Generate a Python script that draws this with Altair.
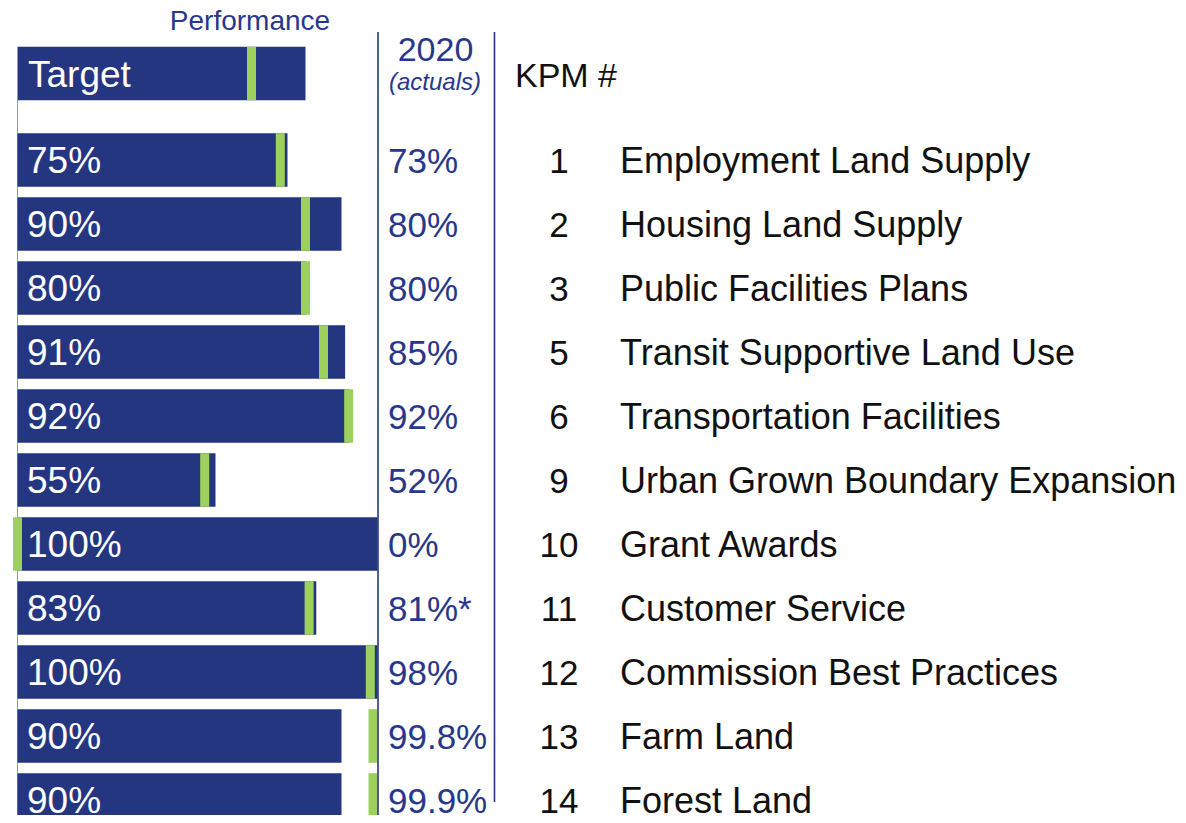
import altair as alt
import pandas as pd

# ---- data ----
KPM = ["1", "2", "3", "5", "6", "9", "10", "11", "12", "13", "14"]
NAMES = [
    "Employment Land Supply",
    "Housing Land Supply",
    "Public Facilities Plans",
    "Transit Supportive Land Use",
    "Transportation Facilities",
    "Urban Grown Boundary Expansion",
    "Grant Awards",
    "Customer Service",
    "Commission Best Practices",
    "Farm Land",
    "Forest Land",
]
TARGET = [75, 90, 80, 91, 92, 55, 100, 83, 100, 90, 90]
ACTUAL = [73, 80, 80, 85, 92, 52, 0, 81, 98, 99.8, 99.9]
ACTUAL_LABELS = ["73%", "80%", "80%", "85%", "92%", "52%", "0%", "81%*", "98%", "99.8%", "99.9%"]
HEADER_TARGET = [80]
HEADER_MARK = [65]

# ---- styling / layout ----
NAVY = "#253680"
NAVY_TXT = "#27378a"
GREEN = "#9dd05c"
FONT = "Liberation Sans"
W, H = 1170, 807
PX = 3.6          # pixels per percentage point
X0 = 9.5          # plot x of 0 %
ROWPX = 64        # pixels per row
Y0 = 152          # plot y of first row centre
HALF = 26.75 / ROWPX
MARKW = 1.25
HEADER_ROW = (65.5 - Y0) / ROWPX

xs = alt.Scale(domain=[-X0 / PX, (W - X0) / PX], nice=False, zero=False)
ys = alt.Scale(domain=[-Y0 / ROWPX, (H - Y0) / ROWPX], reverse=True, nice=False, zero=False)

df = pd.DataFrame({
    "row": list(range(len(KPM))),
    "kpm": KPM,
    "name": NAMES,
    "target": TARGET,
    "actual": ACTUAL,
    "alabel": ACTUAL_LABELS,
})
df["start"] = 0
df["tlabel"] = [f"{t}%" for t in TARGET]

hdr = pd.DataFrame({"row": [HEADER_ROW], "target": HEADER_TARGET, "actual": HEADER_MARK,
                    "start": [0], "label": ["Target"]})


def bars(data):
    return alt.Chart(data).transform_calculate(
        y0=f"datum.row - {HALF}", y1=f"datum.row + {HALF}"
    ).mark_rect(color=NAVY, clip=True).encode(
        x=alt.X("start:Q", scale=xs, axis=None),
        x2="target:Q",
        y=alt.Y("y0:Q", scale=ys, axis=None),
        y2="y1:Q",
    )


def marks(data):
    return alt.Chart(data).transform_calculate(
        c=f"min(datum.actual, {100 - MARKW})",
        y0=f"datum.row - {HALF}", y1=f"datum.row + {HALF}",
    ).transform_calculate(
        m0=f"datum.c - {MARKW}", m1=f"datum.c + {MARKW}"
    ).mark_rect(color=GREEN, clip=True).encode(
        x=alt.X("m0:Q", scale=xs, axis=None),
        x2="m1:Q",
        y=alt.Y("y0:Q", scale=ys, axis=None),
        y2="y1:Q",
    )


def rowtext(field, xpx, size, color, align="left", data=df, style="normal"):
    return alt.Chart(data).mark_text(
        align=align, baseline="middle", font=FONT, fontSize=size, color=color,
        fontStyle=style, dy=2
    ).encode(
        x=alt.value(xpx),
        y=alt.Y("row:Q", scale=ys, axis=None),
        text=f"{field}:N",
    )


def label(txt, xpx, ypx, size, color, align="center", style="normal"):
    return alt.Chart(pd.DataFrame({"t": [txt]})).mark_text(
        align=align, baseline="middle", font=FONT, fontSize=size, color=color, fontStyle=style
    ).encode(x=alt.value(xpx), y=alt.value(ypx), text="t:N")


def vrule(xpx, y1, y2, width, opacity=1.0):
    return alt.Chart(pd.DataFrame({"a": [0]})).mark_rule(
        color=NAVY, strokeWidth=width, opacity=opacity
    ).encode(x=alt.value(xpx), y=alt.value(y1), y2=alt.value(y2))


layers = [
    vrule(X0, 92, H, 1, 0.5),
    bars(df),
    bars(hdr),
    marks(df),
    marks(hdr),
    vrule(370, 24, H, 1.6),
    vrule(486.5, 24, 794, 1.6),
    rowtext("tlabel", 19, 37, "white"),
    rowtext("label", 20, 37, "white", data=hdr),
    rowtext("alabel", 380, 35, NAVY_TXT),
    rowtext("kpm", 551, 35, "#111111", align="center"),
    rowtext("name", 612, 36, "#111111"),
    label("Performance", 242, 14, 28, NAVY_TXT),
    label("2020", 427.5, 43, 34, NAVY_TXT),
    label("(actuals)", 427, 75, 24, NAVY_TXT, style="italic"),
    label("KPM #", 507, 69, 34, "#111111", align="left"),
]

chart = alt.layer(*layers).properties(
    width=W, height=H, padding=0,
    autosize=alt.AutoSizeParams(type="none"),
).configure_view(stroke=None)

chart.save("out.html", embed_options={"renderer": "svg", "actions": False})
